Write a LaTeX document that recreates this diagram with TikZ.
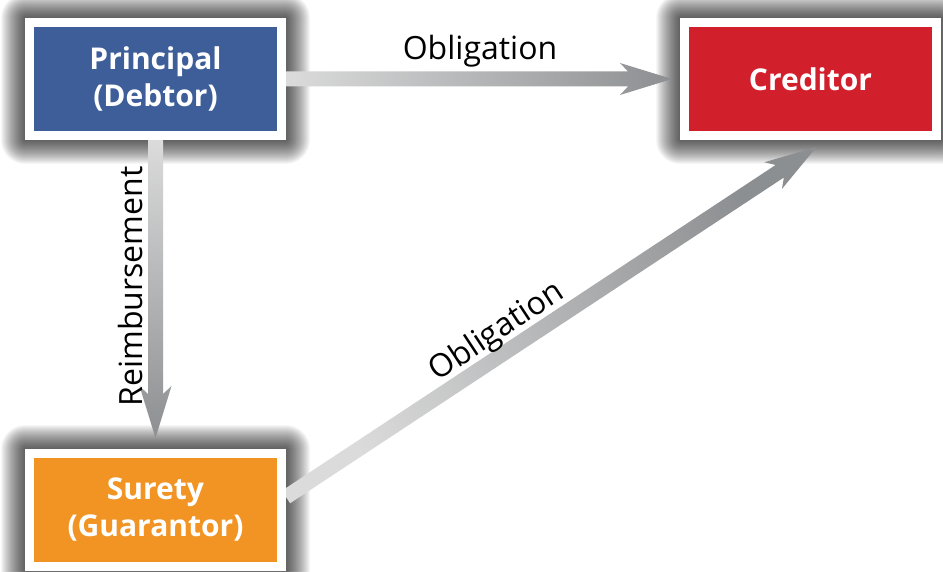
\documentclass[tikz,border=0pt]{standalone}
\usepackage{fontspec}
\setmainfont{Open Sans}
\usetikzlibrary{positioning}
\usetikzlibrary{calc}
\usetikzlibrary{backgrounds}
\definecolor{pblue}{rgb}{0.24, 0.37, 0.6}
\definecolor{cred}{rgb}{0.82, 0.12, 0.17}
\definecolor{sorange}{rgb}{0.95, 0.58, 0.14}
\definecolor{arrlight}{rgb}{0.86, 0.86, 0.86}
\definecolor{arrdark}{rgb}{0.55, 0.56, 0.57}

\tikzset{
  party/.style={draw=white, line width=9pt, minimum width=252pt, minimum height=113pt,
    text=white, align=center, font=\fontsize{30}{37}\selectfont\bfseries},
  lbl/.style={text=black, inner sep=2pt, font=\fontsize{32}{38}\selectfont},
}

% soft dark glow round a box
\newcommand{\glow}[1]{%
  \foreach \i in {1,...,24}
    \fill [black, opacity=0.035, rounded corners=\i] ($(#1.south west)-(\i,\i)$) rectangle ($(#1.north east)+(\i,\i)$);}

% fat shaded arrow: tail, tip, shading angle
\newcommand{\fatarrow}[3]{%
  \shade [left color=arrlight, right color=arrdark, shading angle=#3]
    ($(#1)!7.5pt!90:(#2)$) -- ($(#2)!44pt!(#1)!7.5pt!90:(#2)$) -- ($(#2)!52pt!(#1)!16pt!90:(#2)$)
    -- (#2) -- ($(#2)!52pt!(#1)!16pt!-90:(#2)$) -- ($(#2)!44pt!(#1)!7.5pt!-90:(#2)$)
    -- ($(#1)!7.5pt!-90:(#2)$) -- cycle;}

\begin{document}
\begin{tikzpicture}[x=1pt, y=1pt]
      \useasboundingbox (0, 0) rectangle (943, 571);

      \node [party, fill=pblue] (P) at (155.5, 492) {Principal\\(Debtor)};
      \node [party, fill=cred, right=394pt of P] (C) {Creditor};
      \node [party, fill=sorange, below=309pt of P] (S) {Surety\\(Guarantor)};

      \coordinate (ctip) at ($(C.west)+(-8, 0)$);
      \coordinate (stip) at ($(S.north)+(0, 11)$);
      \coordinate (gtail) at ($(S.east)+(0, 13)$);
      \coordinate (gtip) at ($(C.south)+(6, -7)$);

      \begin{scope}[on background layer]
        \fill [white] (0, 0) rectangle (943, 571);
        \glow{P}
        \glow{C}
        \glow{S}
        \fatarrow{P.east}{ctip}{90}
        \fatarrow{P.south}{stip}{0}
        \fatarrow{gtail}{gtip}{123}
      \end{scope}

      \node [lbl] (obtop) at ($(P.east)!0.5!(C.west)+(-3, 28)$) {Obligation};
      \node [lbl, rotate=90, anchor=base] (reimb) at ($(P.south)!0.5!(S.north)+(-13.5, 8)$) {Reimbursement};
      \path (gtail) -- node [lbl, sloped, pos=0.42, above=3pt] (obdiag) {Obligation} (gtip);
    \end{tikzpicture}
\end{document}
